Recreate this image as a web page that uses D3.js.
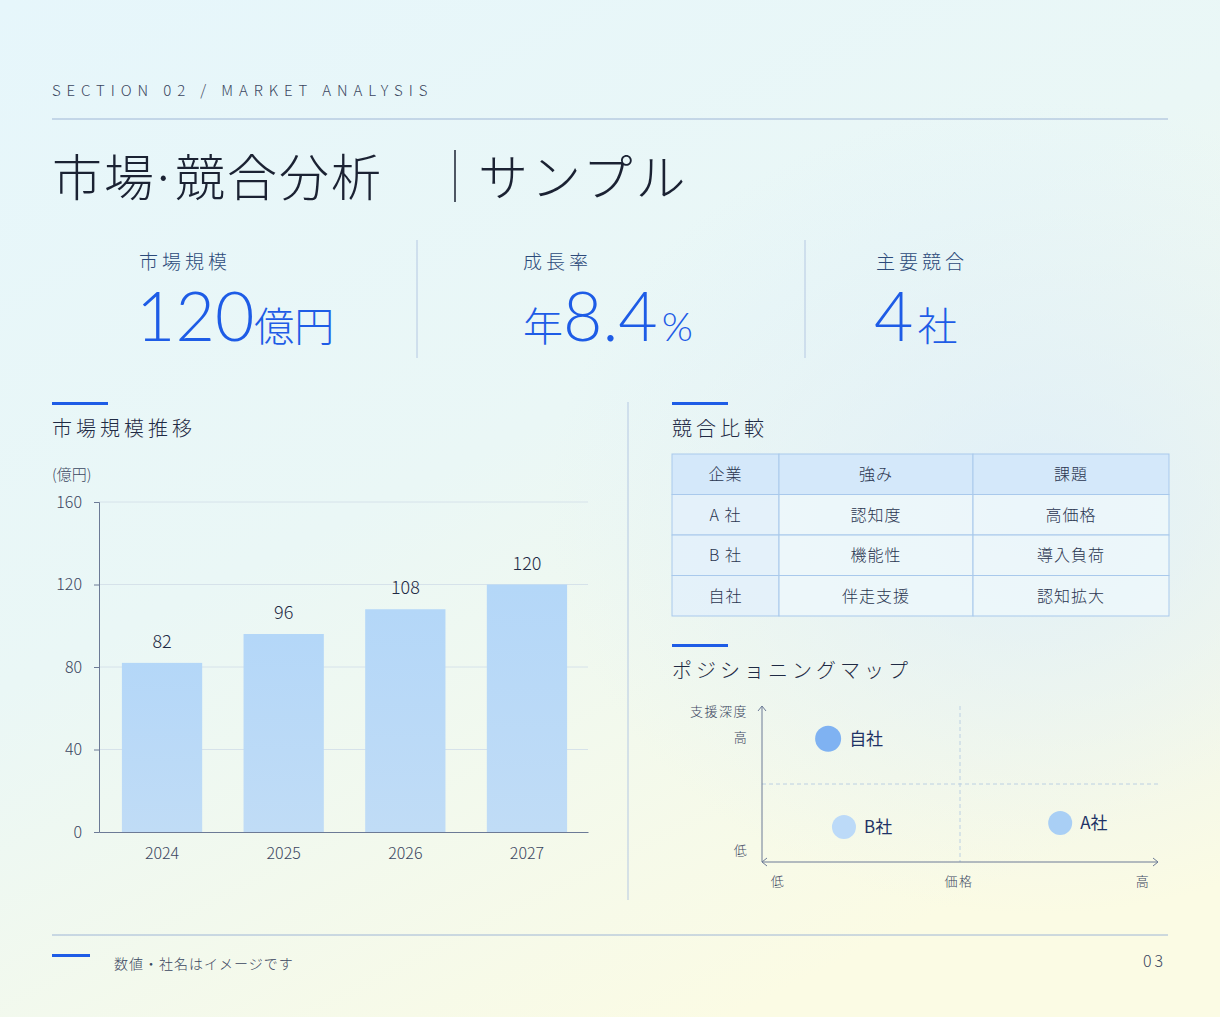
<!DOCTYPE html>
<html lang="ja">
<head>
<meta charset="UTF-8">
<title>市場・競合分析</title>
<script src="https://cdn.jsdelivr.net/npm/d3@7"></script>
<style>
    body{ margin:0; font-family:"Noto Sans CJK JP","Noto Sans",sans-serif; }
    svg text{ font-family:"Noto Sans CJK JP","Noto Sans",sans-serif; }
</style>
</head>
<body>
<svg id="chart" width="1220" height="1017"></svg>
<script>
(function(){
    // data
    var years = ["2024","2025","2026","2027"];
    var marketSize = [82, 96, 108, 120];
    var yTicks = [0, 40, 80, 120, 160];
    var kpiLabels = ["市場規模", "成長率", "主要競合"];
    var tableHeader = ["企業", "強み", "課題"];
    var tableRows = [["A 社","認知度","高価格"],["B 社","機能性","導入負荷"],["自社","伴走支援","認知拡大"]];
    var mapNames = ["自社", "B社", "A社"];
    var mapPrice = [1.67, 2.07, 7.53];
    var mapSupport = [7.9, 2.25, 2.5];

    var svg = d3.select("#chart");
    var defs = svg.append("defs");
    var g1 = defs.append("linearGradient").attr("id","bg").attr("x1","0").attr("y1","0").attr("x2","0.6").attr("y2","1");
    g1.append("stop").attr("offset","0").attr("stop-color","#e6f6fb");
    g1.append("stop").attr("offset","0.5").attr("stop-color","#eaf7f6");
    g1.append("stop").attr("offset","1").attr("stop-color","#fbfbe4");
    var g2 = defs.append("radialGradient").attr("id","glow").attr("cx","0.85").attr("cy","0.5").attr("r","0.4");
    g2.append("stop").attr("offset","0").attr("stop-color","#dcedfa").attr("stop-opacity",0.8);
    g2.append("stop").attr("offset","1").attr("stop-color","#dcedfa").attr("stop-opacity",0);
    var bar = defs.append("linearGradient").attr("id","bar").attr("x1","0").attr("y1","0").attr("x2","0").attr("y2","1");
    bar.append("stop").attr("offset","0").attr("stop-color","#b4d7f8");
    bar.append("stop").attr("offset","1").attr("stop-color","#c0dcf6");

    svg.append("rect").attr("width",1220).attr("height",1017).attr("fill","url(#bg)");
    svg.append("rect").attr("width",1220).attr("height",1017).attr("fill","url(#glow)");

    // header
    svg.append("text").attr("x",52).attr("y",96).attr("font-size",15).attr("letter-spacing","5.9px")
        .attr("fill","#3b4660").attr("font-family","Noto Sans, sans-serif").attr("font-weight",300)
        .text("SECTION 02 / MARKET ANALYSIS");
    svg.append("line").attr("x1",52).attr("x2",1168).attr("y1",119).attr("y2",119).attr("stroke","#9fb6d6");
    var tt = svg.append("text").attr("x",52).attr("y",196).attr("font-size",50).attr("font-weight",300)
        .attr("fill","#1b2233").attr("letter-spacing","2px");
    tt.append("tspan").text("市場");
    tt.append("tspan").attr("dx",-6).text("·");
    tt.append("tspan").attr("dx",-4).text("競合分析");
    svg.append("line").attr("x1",455).attr("x2",455).attr("y1",150).attr("y2",202).attr("stroke","#1b2233").attr("stroke-width",1.5);
    svg.append("text").attr("x",478).attr("y",196).attr("font-size",50).attr("font-weight",300)
        .attr("fill","#1b2233").attr("letter-spacing","3px").text("サンプル");

    // KPI
    var kpiX = [139, 523, 876];
    kpiLabels.forEach(function(l,i){
        svg.append("text").attr("x",kpiX[i]).attr("y",269).attr("font-size",19).attr("letter-spacing","4px")
            .attr("font-weight",300).attr("fill","#2c4a7a").text(l);
    });
    var blue = "#1e5ce6";
    var k1 = svg.append("text").attr("x",136).attr("y",341).attr("fill",blue);
    k1.append("tspan").attr("font-size",68).attr("font-weight",300).attr("font-family","Lato, sans-serif").text("120");
    k1.append("tspan").attr("font-size",40).attr("font-weight",300).text("億円");
    var k2 = svg.append("text").attr("x",523).attr("y",341).attr("fill",blue);
    k2.append("tspan").attr("font-size",40).attr("font-weight",300).text("年");
    k2.append("tspan").attr("font-size",68).attr("font-weight",300).attr("font-family","Lato, sans-serif").text("8.4");
    k2.append("tspan").attr("font-size",40).attr("font-weight",300).attr("font-family","Lato, sans-serif").attr("dx",4).text("%");
    var k3 = svg.append("text").attr("x",874).attr("y",341).attr("fill",blue);
    k3.append("tspan").attr("font-size",68).attr("font-weight",300).attr("font-family","Lato, sans-serif").text("4");
    k3.append("tspan").attr("font-size",40).attr("font-weight",300).attr("dx",4).text("社");
    [417, 805].forEach(function(x){
        svg.append("line").attr("x1",x).attr("x2",x).attr("y1",240).attr("y2",358).attr("stroke","#b5c8e2");
    });

    // section headers
    function section(x, y, t){
        svg.append("rect").attr("x",x).attr("y",y-34).attr("width",56).attr("height",3).attr("fill",blue);
        svg.append("text").attr("x",x).attr("y",y).attr("font-size",20).attr("letter-spacing","4px")
            .attr("font-weight",300).attr("fill","#1f2a44").text(t);
    }
    section(52, 436, "市場規模推移");
    section(672, 436, "競合比較");
    section(672, 678, "ポジショニングマップ");
    svg.append("line").attr("x1",628).attr("x2",628).attr("y1",402).attr("y2",900).attr("stroke","#b5c8e2");

    // bar chart
    var x = d3.scaleBand().domain(years).range([99,588]).paddingInner(0.34).paddingOuter(0.18);
    var y = d3.scaleLinear().domain([0,160]).range([832,502]);
    svg.append("text").attr("x",52).attr("y",480).attr("font-size",15).attr("fill","#3b4660").attr("font-weight",300).text("(億円)");
    var grid = svg.append("g");
    grid.selectAll("line").data(yTicks.slice(1)).join("line")
        .attr("x1",99).attr("x2",588).attr("y1",function(d){return y(d);}).attr("y2",function(d){return y(d);})
        .attr("stroke","#d6e2ea").attr("stroke-width",1);
    svg.selectAll("rect.bar").data(marketSize).join("rect").attr("class","bar")
        .attr("x",function(d,i){return x(years[i]) + 1;}).attr("width",x.bandwidth())
        .attr("y",function(d){return y(d);}).attr("height",function(d){return y(0)-y(d);})
        .attr("fill","url(#bar)");
    svg.selectAll("text.val").data(marketSize).join("text").attr("class","val")
        .attr("x",function(d,i){return x(years[i])+x.bandwidth()/2+1;}).attr("y",function(d){return y(d)-15;})
        .attr("text-anchor","middle").attr("font-size",18).attr("font-weight",300)
        .attr("font-family","Noto Sans, sans-serif").attr("fill","#1f2a44").text(function(d){return d;});
    var ya = svg.append("g").attr("transform","translate(99,0)")
        .call(d3.axisLeft(y).tickValues(yTicks).tickSize(5).tickPadding(12));
    var xa = svg.append("g").attr("transform","translate(0,832)")
        .call(d3.axisBottom(x).tickSize(0).tickPadding(16));
    xa.selectAll(".tick text").attr("dx",1);
    [ya, xa].forEach(function(a){
        a.select(".domain").attr("stroke","#6c7a96");
        a.selectAll(".tick line").attr("stroke","#6c7a96");
        a.selectAll("text").attr("font-size",16).attr("fill","#3b4660").attr("font-weight",300)
            .attr("font-family","Noto Sans, sans-serif");
    });

    // table
    var cols = [672, 779, 973, 1169];
    var rowH = 40.5, tTop = 454;
    var allRows = [tableHeader].concat(tableRows);
    allRows.forEach(function(r, ri){
        r.forEach(function(c, ci){
            var head = ri === 0, first = ci === 0;
            svg.append("rect").attr("x",cols[ci]).attr("y",tTop+ri*rowH)
                .attr("width",cols[ci+1]-cols[ci]).attr("height",rowH)
                .attr("fill", head ? "#d4e8fa" : (first ? "#e2f0fb" : "#eef7fb"))
                .attr("fill-opacity", head ? 1 : 0.8)
                .attr("stroke","#a9c9ec");
            svg.append("text").attr("x",(cols[ci]+cols[ci+1])/2).attr("y",tTop+ri*rowH+rowH/2+6)
                .attr("text-anchor","middle").attr("font-size",16).attr("font-weight",300)
                .attr("letter-spacing","1px").attr("fill","#2a3550").text(c);
        });
    });

    // positioning map
    var mx = d3.scaleLinear().domain([0,10]).range([762,1158]);
    var my = d3.scaleLinear().domain([0,10]).range([862,706]);
    svg.append("line").attr("x1",mx(5)).attr("x2",mx(5)).attr("y1",my(10)).attr("y2",my(0))
        .attr("stroke","#bcd0e2").attr("stroke-dasharray","4,3");
    svg.append("line").attr("x1",mx(0)).attr("x2",mx(10)).attr("y1",my(5)).attr("y2",my(5))
        .attr("stroke","#bcd0e2").attr("stroke-dasharray","4,3");
    var ax = "#6c7a96";
    svg.append("line").attr("x1",mx(0)).attr("x2",mx(10)).attr("y1",my(0)).attr("y2",my(0)).attr("stroke",ax);
    svg.append("line").attr("x1",mx(0)).attr("x2",mx(0)).attr("y1",my(0)).attr("y2",my(10)).attr("stroke",ax);
    svg.append("path").attr("d","M"+(mx(10)-5)+","+(my(0)-4)+"L"+mx(10)+","+my(0)+"L"+(mx(10)-5)+","+(my(0)+4)).attr("fill","none").attr("stroke",ax);
    svg.append("path").attr("d","M"+(mx(0)-4)+","+(my(10)+5)+"L"+mx(0)+","+my(10)+"L"+(mx(0)+4)+","+(my(10)+5)).attr("fill","none").attr("stroke",ax);
    svg.append("path").attr("d","M"+(mx(0)+5)+","+(my(0)-4)+"L"+mx(0)+","+my(0)+"L"+(mx(0)+5)+","+(my(0)+4)).attr("fill","none").attr("stroke",ax);
    var small = function(t, xx, yy, anchor){
        svg.append("text").attr("x",xx).attr("y",yy).attr("text-anchor",anchor||"middle")
            .attr("font-size",13).attr("font-weight",300).attr("letter-spacing","1.5px")
            .attr("fill","#3b4660").text(t);
    };
    small("支援深度", 748, 716, "end");
    small("高", 741, 742);
    small("低", 741, 855);
    small("低", 778, 886);
    small("価格", 959, 886);
    small("高", 1143, 886);
    var fills = ["#7fb2f2", "#bcdaf8", "#a9cff5"];
    var rs = [13, 12, 12];
    mapNames.forEach(function(n, i){
        svg.append("circle").attr("cx",mx(mapPrice[i])).attr("cy",my(mapSupport[i])).attr("r",rs[i]).attr("fill",fills[i]);
        svg.append("text").attr("x",mx(mapPrice[i])+rs[i]+8).attr("y",my(mapSupport[i])+6)
            .attr("font-size",17).attr("fill","#1f3366").text(n);
    });

    // footer
    svg.append("line").attr("x1",52).attr("x2",1168).attr("y1",935).attr("y2",935).attr("stroke","#9fb6d6");
    svg.append("rect").attr("x",52).attr("y",954).attr("width",38).attr("height",3).attr("fill",blue);
    svg.append("text").attr("x",114).attr("y",969).attr("font-size",14).attr("font-weight",300)
        .attr("letter-spacing","1px").attr("fill","#3b4660").text("数値・社名はイメージです");
    svg.append("text").attr("x",1166).attr("y",967).attr("text-anchor","end").attr("font-size",16)
        .attr("letter-spacing","3px").attr("font-weight",300).attr("fill","#3b4660").text("03");
}());
</script>
</body>
</html>
